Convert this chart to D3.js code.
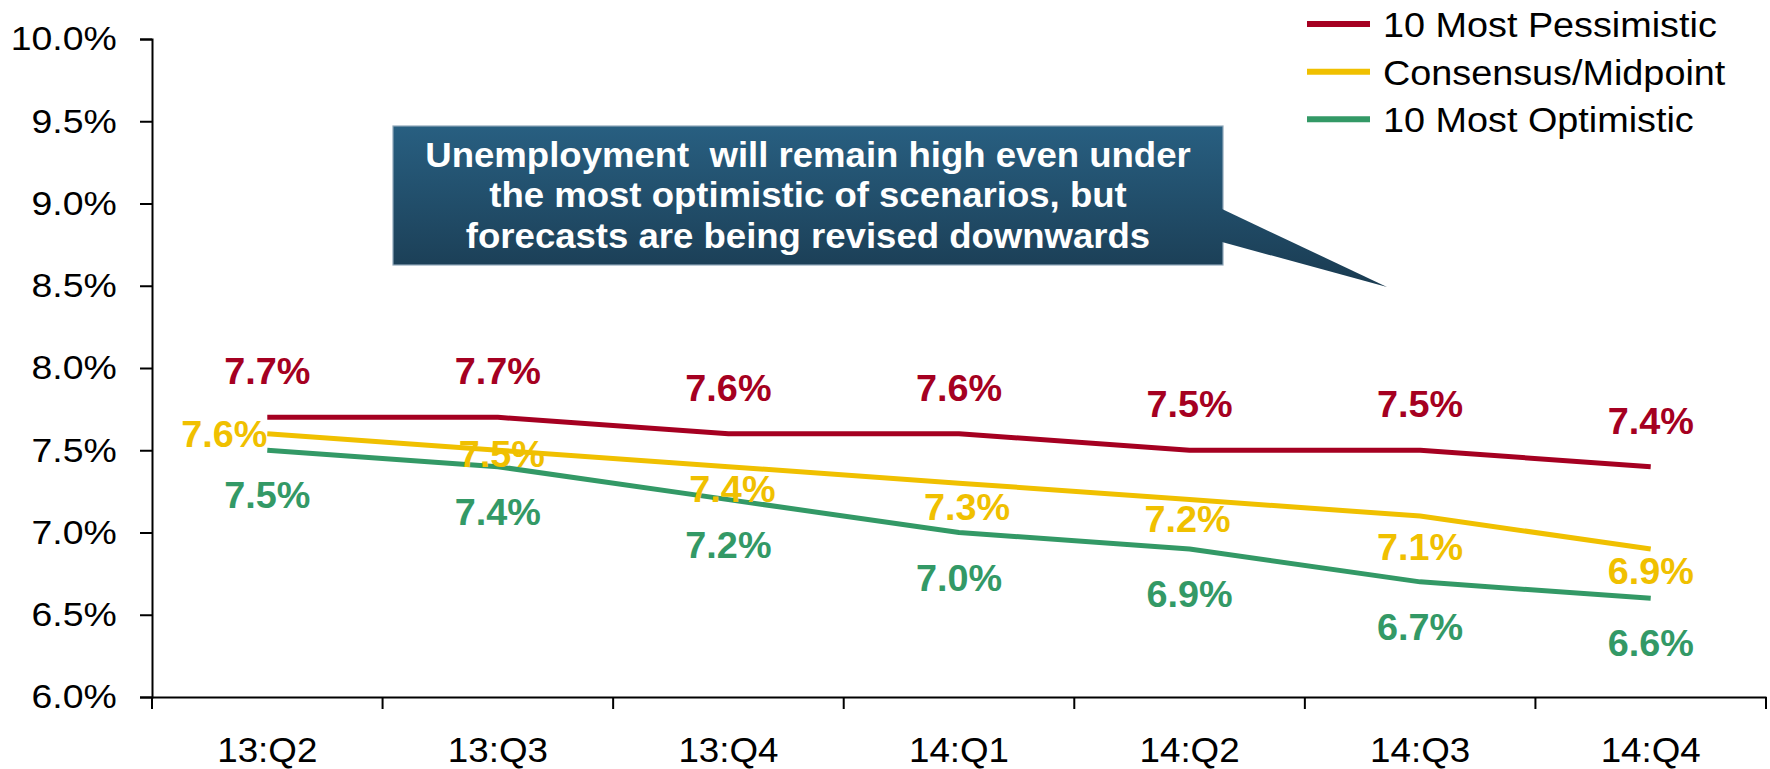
<!DOCTYPE html>
<html>
<head>
<meta charset="utf-8">
<script src="https://cdn.jsdelivr.net/npm/d3@7"></script>
<style>
  html, body { margin: 0; padding: 0; background: #fff; }
  svg { display: block; font-family: "Liberation Sans", Arial, sans-serif; }
</style>
</head>
<body>
<svg id="chart" width="1770" height="769"></svg>
<script>
// ---- data ----
const categories = ["13:Q2", "13:Q3", "13:Q4", "14:Q1", "14:Q2", "14:Q3", "14:Q4"];
const pessimistic = [7.7, 7.7, 7.6, 7.6, 7.5, 7.5, 7.4];
const consensus   = [7.6, 7.5, 7.4, 7.3, 7.2, 7.1, 6.9];
const optimistic  = [7.5, 7.4, 7.2, 7.0, 6.9, 6.7, 6.6];
const yTicks = [6.0, 6.5, 7.0, 7.5, 8.0, 8.5, 9.0, 9.5, 10.0];
const seriesNames = ["10 Most Pessimistic", "Consensus/Midpoint", "10 Most Optimistic"];
const calloutLines = [
  "Unemployment  will remain high even under",
  "the most optimistic of scenarios, but",
  "forecasts are being revised downwards"
];

// ---- layout / style ----
const colors = ["#A50021", "#F0C000", "#339966"];
const plotLeft = 152, plotRight = 1766, plotTop = 39, plotBottom = 697;
const consensusLabelDy = [13, 17, 35, 37, 32, 44, 35];
const consensusLabelDx = [0, 4, 4, 8, -2, 0, 0];

const svg = d3.select("#chart");

const x = d3.scaleBand().domain(categories).range([plotLeft, plotRight]).paddingInner(0).paddingOuter(0);
const y = d3.scaleLinear().domain([6, 10]).range([plotBottom, plotTop]);
const cx = c => x(c) + x.bandwidth() / 2;

// defs gradient
const defs = svg.append("defs");
const grad = defs.append("linearGradient").attr("id", "boxGrad")
  .attr("gradientUnits", "userSpaceOnUse").attr("x1", 0).attr("y1", 126).attr("x2", 0).attr("y2", 287);
grad.append("stop").attr("offset", "0%").attr("stop-color", "#285F81");
grad.append("stop").attr("offset", "100%").attr("stop-color", "#1A3B51");

// ---- axes ----
const yAxis = d3.axisLeft(y).tickValues(yTicks).tickSize(12).tickPadding(20)
  .tickFormat(d => d.toFixed(1) + "%");
const gy = svg.append("g").attr("transform", `translate(${plotLeft},0)`).call(yAxis);
gy.select(".domain").attr("stroke", "#000").attr("stroke-width", 2);
gy.selectAll(".tick line").attr("stroke", "#000").attr("stroke-width", 2);
gy.selectAll(".tick text").attr("font-size", 34).attr("fill", "#000")
  .attr("font-family", "Liberation Sans, Arial, sans-serif")
  .attr("transform", "scale(1.1,1)");

const xAxis = d3.axisBottom(x).tickSize(0).tickPadding(0);
const gx = svg.append("g").attr("transform", `translate(0,${plotBottom})`).call(xAxis);
gx.select(".domain").attr("stroke", "#000").attr("stroke-width", 2);
gx.selectAll(".tick text").attr("font-size", 35).attr("fill", "#000")
  .attr("font-family", "Liberation Sans, Arial, sans-serif")
  .attr("dy", 0).attr("y", 65).attr("x", 0).attr("transform", "scale(1.05,1)");
// tick marks at band boundaries
const boundaries = categories.map(c => x(c)).concat([x(categories[categories.length - 1]) + x.bandwidth()]);
gx.selectAll("line.bound").data(boundaries).enter().append("line")
  .attr("class", "bound")
  .attr("x1", d => d).attr("x2", d => d).attr("y1", 0).attr("y2", 12)
  .attr("stroke", "#000").attr("stroke-width", 2);

// ---- lines ----
const seriesData = [pessimistic, consensus, optimistic];
const line = d3.line().x((d, i) => cx(categories[i])).y(d => y(d));
seriesData.forEach((s, k) => {
  svg.append("path").datum(s).attr("d", line)
    .attr("fill", "none").attr("stroke", colors[k]).attr("stroke-width", 5)
    .attr("stroke-linejoin", "round");
});

// ---- data labels ----
function label(xp, yp, txt, color, anchor) {
  svg.append("text")
    .attr("transform", `translate(${xp},${yp}) scale(1.05,1)`)
    .attr("text-anchor", anchor)
    .attr("font-size", 36).attr("font-weight", "bold")
    .attr("fill", color).text(txt);
}
pessimistic.forEach((v, i) => label(cx(categories[i]), y(v) - 33, v.toFixed(1) + "%", colors[0], "middle"));
consensus.forEach((v, i) => {
  const anchor = i === 0 ? "end" : "middle";
  label(cx(categories[i]) + consensusLabelDx[i], y(v) + consensusLabelDy[i], v.toFixed(1) + "%", colors[1], anchor);
});
optimistic.forEach((v, i) => label(cx(categories[i]), y(v) + 58, v.toFixed(1) + "%", colors[2], "middle"));

// ---- callout ----
const box = { x0: 393, y0: 126, x1: 1223, y1: 265 };
svg.append("rect")
  .attr("x", box.x0).attr("y", box.y0).attr("width", box.x1 - box.x0).attr("height", box.y1 - box.y0)
  .attr("fill", "url(#boxGrad)").attr("stroke", "#8FA7B9").attr("stroke-width", 1.2);
svg.append("path")
  .attr("d", `M${box.x1 - 1},209 L1387,287 L${box.x1 - 1},242 Z`)
  .attr("fill", "url(#boxGrad)");
const bcx = (box.x0 + box.x1) / 2;
const baselines = [166.5, 207.3, 247.7];
calloutLines.forEach((t, i) => {
  svg.append("text")
    .attr("transform", `translate(${bcx},${baselines[i]}) scale(1.015,1)`)
    .attr("text-anchor", "middle").attr("font-size", 36).attr("font-weight", "bold")
    .attr("fill", "#fff").attr("xml:space", "preserve").style("white-space", "pre").text(t);
});

// ---- legend ----
const legY = [24, 71.7, 119.3];
seriesNames.forEach((n, k) => {
  svg.append("line").attr("x1", 1307).attr("x2", 1370).attr("y1", legY[k]).attr("y2", legY[k])
    .attr("stroke", colors[k]).attr("stroke-width", 6);
  svg.append("text")
    .attr("transform", `translate(1383,${legY[k] + 13}) scale(1.08,1)`)
    .attr("font-size", 35).attr("fill", "#000").text(n);
});
</script>
</body>
</html>
